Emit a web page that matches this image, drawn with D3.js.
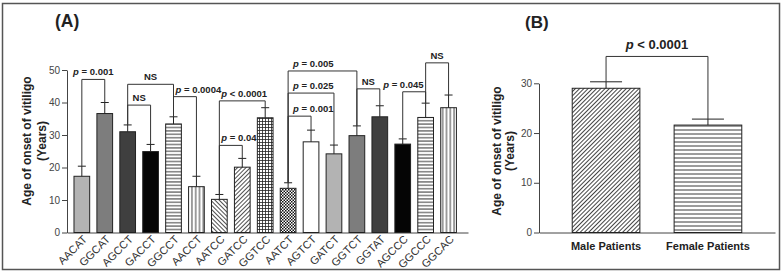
<!DOCTYPE html>
<html>
<head>
<meta charset="utf-8">
<script src="https://cdn.jsdelivr.net/npm/d3@7"></script>
<style>
  body { margin: 0; background: #fff; }
  text { font-family: Arial, "Liberation Sans", sans-serif; }
</style>
</head>
<body>
<svg id="fig" width="784" height="275"></svg>
<script>
// ---- panel A data: age of onset by haplotype ----
const genotypes = ["AACAT", "GGCAT", "AGCCT", "GACCT", "GGCCT", "AACCT", "AATCC", "GATCC", "GGTCC",
    "AATCT", "AGTCT", "GATCT", "GGTCT", "GGTAT", "AGCCC", "GGCCC", "GGCAC"];
const onsetMean = [17.3, 36.6, 31.0, 24.9, 33.4, 14.1, 10.2, 20.1, 35.3, 13.6, 27.9, 24.2, 29.8, 35.6, 27.2, 35.4, 38.4];
const onsetErr = [3.1, 3.4, 2.1, 2.2, 2.2, 3.2, 1.5, 2.7, 3.1, 1.7, 3.6, 2.7, 3.0, 3.4, 1.6, 4.4, 3.9];
const yTicksA = [0, 10, 20, 30, 40, 50];

// comparisons drawn as brackets (from, to, bracket level in years, label)
const pairFrom = ["AACAT", "AGCCT", "AGCCT", "GGCCT", "AATCC", "AATCC", "AATCT", "AATCT", "AATCT", "GGTCT", "AGCCC", "GGCCC"];
const pairTo = ["GGCAT", "GGCCT", "GACCT", "AACCT", "GGTCC", "GATCC", "GGTCT", "GATCT", "AGTCT", "GGTAT", "GGCCC", "GGCAC"];
const pairLevel = [47.1, 45.6, 39.2, 41.8, 40.5, 26.8, 49.7, 42.9, 35.8, 44.2, 43.3, 52.2];
const pairLabel = ["p = 0.001", "NS", "NS", "p = 0.0004", "p < 0.0001", "p = 0.04", "p = 0.005", "p = 0.025", "p = 0.001", "NS", "p = 0.045", "NS"];

// ---- panel B data: by sex ----
const sexes = ["Male Patients", "Female Patients"];
const sexMean = [29.0, 21.6];
const sexErr = [1.3, 1.2];
const yTicksB = [0, 10, 20, 30];
const sexPLevel = 35.4;
const sexPLabel = "p < 0.0001";

// styling
const barFillA = ["#b3b3b3", "#7d7d7d", "#3f3f3f", "#050505", "url(#hstripe)", "url(#vstripe)", "url(#hatchBack)",
    "url(#hatchFwd)", "url(#grid)", "url(#check)", "#ffffff", "#b3b3b3", "#7d7d7d", "#3f3f3f", "#050505",
    "url(#hstripe)", "url(#vstripe)"];
const labelAlign = ["mid", "mid", "mid", "start", "start", "start", "start2", "start2", "start2", "mid", "end", "mid"];
const ink = "#222";
const axisInk = "#444";

const svg = d3.select("#fig");

// patterns
const defs = svg.append("defs");
function pattern(id, w, h, rot) {
    const p = defs.append("pattern")
        .attr("id", id)
        .attr("patternUnits", "userSpaceOnUse")
        .attr("width", w)
        .attr("height", h);
    if (rot) p.attr("patternTransform", "rotate(" + rot + ")");
    p.append("rect").attr("width", w).attr("height", h).attr("fill", "#fff");
    return p;
}
pattern("hstripe", 4, 3.4).append("line")
    .attr("x1", 0).attr("x2", 4).attr("y1", 1.7).attr("y2", 1.7)
    .attr("stroke", ink).attr("stroke-width", 0.9);
pattern("hstripeB", 4, 4).append("line")
    .attr("x1", 0).attr("x2", 4).attr("y1", 2).attr("y2", 2)
    .attr("stroke", ink).attr("stroke-width", 0.9);
pattern("vstripe", 3.8, 4).append("line")
    .attr("x1", 1.9).attr("x2", 1.9).attr("y1", 0).attr("y2", 4)
    .attr("stroke", ink).attr("stroke-width", 0.9);
pattern("hatchFwd", 3, 3, 45).append("line")
    .attr("x1", 1.5).attr("x2", 1.5).attr("y1", 0).attr("y2", 3)
    .attr("stroke", ink).attr("stroke-width", 0.8);
pattern("hatchBack", 3, 3, -45).append("line")
    .attr("x1", 1.5).attr("x2", 1.5).attr("y1", 0).attr("y2", 3)
    .attr("stroke", ink).attr("stroke-width", 0.8);
pattern("hatchB", 3, 3, 45).append("line")
    .attr("x1", 1.5).attr("x2", 1.5).attr("y1", 0).attr("y2", 3)
    .attr("stroke", "#222").attr("stroke-width", 0.85);
const g = pattern("grid", 3, 3);
g.append("line").attr("x1", 0).attr("x2", 3).attr("y1", 1.5).attr("y2", 1.5).attr("stroke", ink).attr("stroke-width", 0.8);
g.append("line").attr("x1", 1.5).attr("x2", 1.5).attr("y1", 0).attr("y2", 3).attr("stroke", ink).attr("stroke-width", 0.8);
const c = pattern("check", 3, 3);
c.append("rect").attr("x", 0).attr("y", 0).attr("width", 1.5).attr("height", 1.5).attr("fill", "#111");
c.append("rect").attr("x", 1.5).attr("y", 1.5).attr("width", 1.5).attr("height", 1.5).attr("fill", "#111");

// frame
svg.append("rect")
    .attr("x", 2.5).attr("y", 3.5)
    .attr("width", 777).attr("height", 266)
    .attr("fill", "none").attr("stroke", "#555").attr("stroke-width", 1.5);

// panel letters
svg.append("text").attr("x", 55).attr("y", 27).attr("font-size", 17.5).attr("font-weight", "bold").attr("fill", ink).text("(A)");
svg.append("text").attr("x", 525).attr("y", 28).attr("font-size", 17).attr("font-weight", "bold").attr("fill", ink).text("(B)");

function pLabel(sel, label) {
    if (label.startsWith("p")) {
        sel.append("tspan").attr("font-style", "italic").text("p");
        sel.append("tspan").text(label.slice(1));
    } else {
        sel.text(label);
    }
}

function yTitle(x1, x2, cy) {
    const t = svg.append("g").attr("font-size", 12).attr("font-weight", "bold").attr("fill", ink);
    t.append("text").attr("transform", "translate(" + x1 + "," + cy + ") rotate(-90)")
        .attr("text-anchor", "middle").text("Age of onset of vitiligo");
    t.append("text").attr("transform", "translate(" + x2 + "," + cy + ") rotate(-90)")
        .attr("text-anchor", "middle").text("(Years)");
}

function styleAxis(ax) {
    ax.selectAll("path, line").attr("stroke", axisInk);
    ax.selectAll("text").attr("fill", "#444").attr("font-family", "Arial, 'Liberation Sans', sans-serif");
}

// ================= panel A =================
const xA = d3.scaleBand()
    .domain(genotypes)
    .range([67, 468])
    .paddingInner(0.315)
    .paddingOuter(0.405)
    .align(0.376);
const yA = d3.scaleLinear().domain([0, 50]).range([232.5, 70]);

const axYA = svg.append("g")
    .attr("transform", "translate(67,0)")
    .call(d3.axisLeft(yA).tickValues(yTicksA).tickSize(5).tickSizeOuter(0).tickPadding(2));
axYA.selectAll("text").attr("font-size", 10);
styleAxis(axYA);

const axXA = svg.append("g")
    .attr("transform", "translate(0,232.5)")
    .call(d3.axisBottom(xA).tickSize(0).tickSizeOuter(0).tickFormat(""));
styleAxis(axXA);

svg.append("g").selectAll("text")
    .data(genotypes)
    .join("text")
    .attr("transform", d => "translate(" + (xA(d) + xA.bandwidth() / 2 + 6) + ",240) rotate(-45)")
    .attr("text-anchor", "end")
    .attr("font-size", 11)
    .attr("fill", "#333")
    .text(d => d);

// bars
svg.append("g").selectAll("rect")
    .data(genotypes)
    .join("rect")
    .attr("x", d => xA(d))
    .attr("y", (d, i) => yA(onsetMean[i]))
    .attr("width", xA.bandwidth())
    .attr("height", (d, i) => yA(0) - yA(onsetMean[i]))
    .attr("fill", (d, i) => barFillA[i])
    .attr("stroke", ink)
    .attr("stroke-width", 1);

// error bars (upper)
const errA = svg.append("g").attr("stroke", ink).attr("stroke-width", 1);
genotypes.forEach(function (d, i) {
    const cx = xA(d) + xA.bandwidth() / 2;
    const top = yA(onsetMean[i] + onsetErr[i]);
    errA.append("line").attr("x1", cx).attr("x2", cx).attr("y1", yA(onsetMean[i])).attr("y2", top);
    errA.append("line").attr("x1", cx - 4).attr("x2", cx + 4).attr("y1", top).attr("y2", top);
});

// significance brackets
const brA = svg.append("g");
pairFrom.forEach(function (a, k) {
    const b = pairTo[k];
    const ia = genotypes.indexOf(a), ib = genotypes.indexOf(b);
    const xa = xA(a) + xA.bandwidth() / 2, xb = xA(b) + xA.bandwidth() / 2;
    const yl = yA(pairLevel[k]);
    brA.append("path")
        .attr("d", "M" + xa + "," + yA(onsetMean[ia] + onsetErr[ia]) + "V" + yl + "H" + xb + "V" + yA(onsetMean[ib] + onsetErr[ib]))
        .attr("fill", "none").attr("stroke", "#333").attr("stroke-width", 1);
    let tx = (xa + xb) / 2, anchor = "middle";
    if (labelAlign[k] === "start") { tx = xa + 2; anchor = "start"; }
    if (labelAlign[k] === "start2") { tx = xa + 5; anchor = "start"; }
    if (labelAlign[k] === "end") { tx = xb - 2; anchor = "end"; }
    const t = brA.append("text")
        .attr("x", tx).attr("y", yl - 4)
        .attr("text-anchor", anchor)
        .attr("font-size", 9.5).attr("font-weight", "bold").attr("fill", ink);
    pLabel(t, pairLabel[k]);
});

yTitle(31, 46, 141);

// ================= panel B =================
const xB = d3.scaleBand()
    .domain(sexes)
    .range([539, 775])
    .paddingInner(0.336)
    .paddingOuter(0.326);
const yB = d3.scaleLinear().domain([0, 30]).range([232.5, 83.3]);

const axYB = svg.append("g")
    .attr("transform", "translate(539,0)")
    .call(d3.axisLeft(yB).tickValues(yTicksB).tickSize(5).tickSizeOuter(0).tickPadding(2));
axYB.selectAll("text").attr("font-size", 10);
styleAxis(axYB);

const axXB = svg.append("g")
    .attr("transform", "translate(0,232.5)")
    .call(d3.axisBottom(xB).tickSize(0).tickSizeOuter(0).tickPadding(10));
axXB.selectAll("text").attr("font-size", 11).attr("font-weight", "bold");
styleAxis(axXB);
axXB.selectAll("text").attr("fill", ink);

svg.append("g").selectAll("rect")
    .data(sexes)
    .join("rect")
    .attr("x", d => xB(d))
    .attr("y", (d, i) => yB(sexMean[i]))
    .attr("width", xB.bandwidth())
    .attr("height", (d, i) => yB(0) - yB(sexMean[i]))
    .attr("fill", (d, i) => i === 0 ? "url(#hatchB)" : "url(#hstripeB)")
    .attr("stroke", ink)
    .attr("stroke-width", 1);

const errB = svg.append("g").attr("stroke", ink).attr("stroke-width", 1);
sexes.forEach(function (d, i) {
    const cx = xB(d) + xB.bandwidth() / 2;
    const top = yB(sexMean[i] + sexErr[i]);
    errB.append("line").attr("x1", cx).attr("x2", cx).attr("y1", yB(sexMean[i])).attr("y2", top);
    errB.append("line").attr("x1", cx - 16).attr("x2", cx + 16).attr("y1", top).attr("y2", top);
});

const xm = xB(sexes[0]) + xB.bandwidth() / 2, xf = xB(sexes[1]) + xB.bandwidth() / 2;
svg.append("path")
    .attr("d", "M" + xm + "," + yB(sexMean[0] + sexErr[0]) + "V" + yB(sexPLevel) + "H" + xf + "V" + yB(sexMean[1] + sexErr[1]))
    .attr("fill", "none").attr("stroke", "#333").attr("stroke-width", 1);
const tb = svg.append("text")
    .attr("x", (xm + xf) / 2).attr("y", yB(sexPLevel) - 7)
    .attr("text-anchor", "middle")
    .attr("font-size", 13).attr("font-weight", "bold").attr("fill", ink);
pLabel(tb, sexPLabel);

yTitle(501, 514, 151);
</script>
</body>
</html>
